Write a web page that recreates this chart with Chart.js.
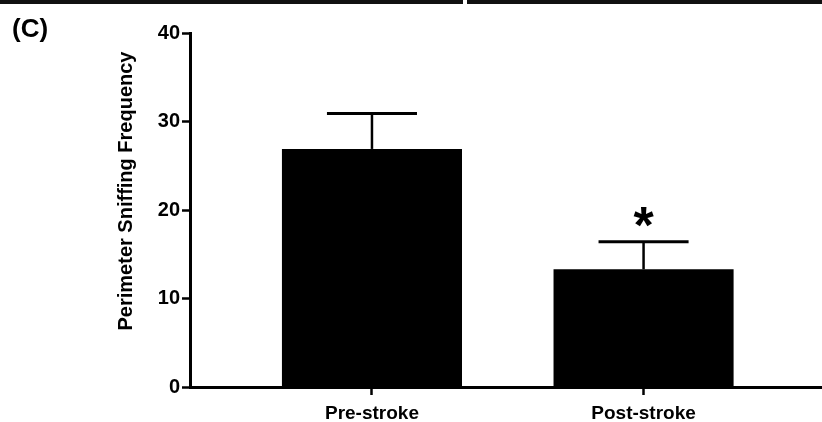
<!DOCTYPE html>
<html>
<head>
<meta charset="utf-8">
<script src="https://cdn.jsdelivr.net/npm/chart.js@4/dist/chart.umd.min.js"></script>
<style>
  body { margin: 0; background: #fff; }
  canvas { display: block; }
</style>
</head>
<body>
<canvas id="chart" width="822" height="422"></canvas>
<script>
// values (panel C)
const categories = ['Pre-stroke', 'Post-stroke'];
const means = [26.9, 13.3];
const sems = [4.0, 3.1];
const marks = ['', '*'];
const yTicks = [0, 10, 20, 30, 40];
const yTitle = 'Perimeter Sniffing Frequency';
const panelLabel = '(C)';

const FONT = "'Liberation Sans', Arial, Helvetica, sans-serif";

const extras = {
  id: 'extras',
  beforeDraw(chart) {
    const ctx = chart.ctx;
    ctx.save();
    ctx.fillStyle = '#fff';
    ctx.fillRect(0, 0, chart.width, chart.height);
    // dark strip left over from the panels above
    ctx.fillStyle = '#111';
    ctx.fillRect(0, 0, 463, 4);
    ctx.fillRect(467, 0, chart.width - 467, 4);
    ctx.restore();
  },
  afterDatasetsDraw(chart) {
    const ctx = chart.ctx;
    const xs = chart.scales.x, ys = chart.scales.y;
    const meta = chart.getDatasetMeta(0);
    ctx.save();
    ctx.strokeStyle = '#000';
    ctx.fillStyle = '#000';
    means.forEach((m, i) => {
      const x = xs.getPixelForValue(i + 1);
      const yBar = ys.getPixelForValue(m);
      const yTop = ys.getPixelForValue(m + sems[i]);
      const half = meta.data[i].width / 4;
      ctx.lineWidth = 2.5;
      ctx.beginPath();
      ctx.moveTo(x, yBar);
      ctx.lineTo(x, yTop);
      ctx.stroke();
      ctx.lineWidth = 3;
      ctx.beginPath();
      ctx.moveTo(x - half, yTop);
      ctx.lineTo(x + half, yTop);
      ctx.stroke();
      if (marks[i]) {
        ctx.font = 'bold 52px ' + FONT;
        ctx.textAlign = 'center';
        ctx.textBaseline = 'alphabetic';
        ctx.fillText(marks[i], x, yTop + 1);
      }
    });
    ctx.restore();
  },
  afterDraw(chart) {
    const ctx = chart.ctx;
    const area = chart.chartArea;
    ctx.save();
    ctx.fillStyle = '#000';
    ctx.font = 'bold 26px ' + FONT;
    ctx.textAlign = 'left';
    ctx.textBaseline = 'alphabetic';
    ctx.fillText(panelLabel, 12, 37);
    // y axis title
    ctx.translate(132, (area.top + area.bottom) / 2 - 19);
    ctx.rotate(-Math.PI / 2);
    ctx.font = 'bold 20px ' + FONT;
    ctx.textAlign = 'center';
    ctx.fillText(yTitle, 0, 0);
    ctx.restore();
  }
};

new Chart(document.getElementById('chart').getContext('2d'), {
  type: 'bar',
  data: {
    datasets: [{
      data: categories.map((c, i) => ({ x: i + 1, y: means[i] })),
      backgroundColor: '#000',
      borderWidth: 0,
      barPercentage: 0.663,
      categoryPercentage: 1
    }]
  },
  options: {
    responsive: false,
    devicePixelRatio: 1,
    animation: false,
    layout: { padding: { top: 33, left: 0, right: 0, bottom: 0 } },
    plugins: { legend: { display: false }, tooltip: { enabled: false } },
    scales: {
      x: {
        type: 'linear',
        min: 0.33,
        max: 2.657,
        offset: false,
        grid: { drawOnChartArea: false, color: '#000', tickLength: 8, tickWidth: 2.5, offset: false },
        border: { color: '#000', width: 3 },
        afterBuildTicks: s => { s.ticks = categories.map((c, i) => ({ value: i + 1 })); },
        afterFit: s => { s.height = 35; },
        ticks: {
          color: '#000',
          padding: 7,
          maxRotation: 0,
          font: { family: FONT, size: 19, weight: 'bold' },
          callback: v => categories[v - 1]
        }
      },
      y: {
        min: 0,
        max: 40,
        grid: { drawOnChartArea: false, color: '#000', tickLength: 8, tickWidth: 2.5 },
        border: { color: '#000', width: 3 },
        afterBuildTicks: s => { s.ticks = yTicks.map(v => ({ value: v })); },
        afterFit: s => { s.width = 190; },
        ticks: {
          color: '#000',
          padding: 2,
          font: { family: FONT, size: 20, weight: 'bold' }
        }
      }
    }
  },
  plugins: [extras]
});
</script>
</body>
</html>
